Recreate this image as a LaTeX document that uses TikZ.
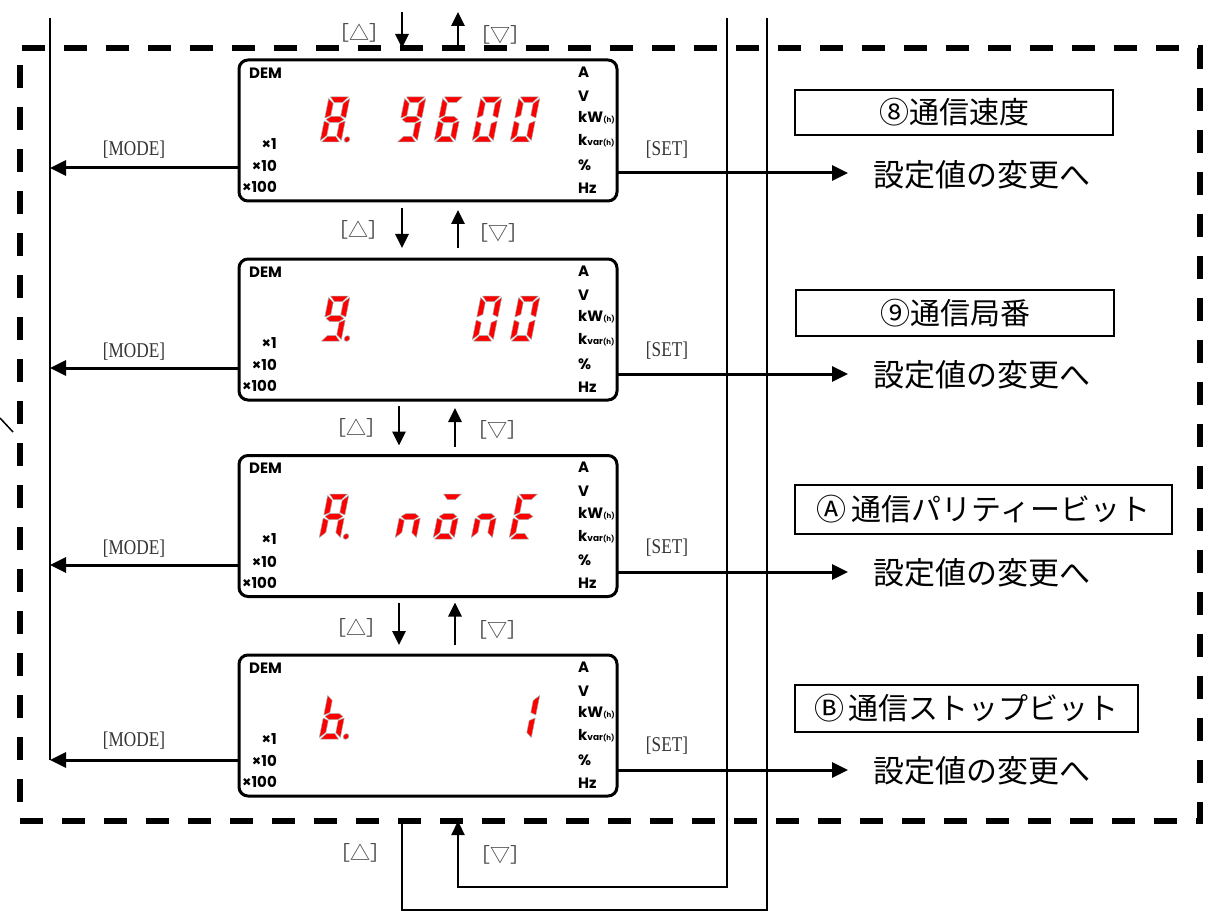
\documentclass[tikz,border=0pt]{standalone}
\usepackage{fontspec}
\setmainfont{Liberation Serif}
\newfontfamily\jp{Noto Sans CJK JP}
\newfontfamily\dispf{Poppins}
\newfontfamily\nar[FakeStretch=0.82]{Liberation Serif}
\usetikzlibrary{arrows.meta}

\tikzset{
  seg/.style={fill=red, draw=black!35, line width=0.5pt, line join=round},
  ln/.style={line width=2.8pt},
  thin ln/.style={line width=2.3pt},
  arr/.style={line width=3pt, -{Triangle[length=16pt,width=15pt]}},
  varr/.style={line width=2.8pt, -{Triangle[length=14pt,width=13pt]}},
  disp/.style={draw, line width=3pt, rounded corners=9pt, minimum width=378pt, minimum height=141pt, inner sep=0pt, outer sep=0pt},
  dl/.style={font=\dispf\bfseries\fontsize{15}{15}\selectfont, inner sep=0pt},
  key/.style={font=\nar\fontsize{21}{21}\selectfont, text=black!80, inner sep=0pt},
  tri/.style={font=\jp\fontsize{20}{20}\selectfont, text=black!75, inner sep=0pt},
  jpt/.style={font=\jp\fontsize{31}{31}\selectfont, inner sep=0pt},
  tbox/.style={draw, line width=2pt, inner sep=0pt, font=\jp\fontsize{30}{30}\selectfont},
}

\newcommand\sgA{\path[seg] (1.5,-45) -- (19.5,-45) -- (14.5,-39.5) -- (6.5,-39.5) -- cycle;}
\newcommand\sgB{\path[seg] (21,-43.5) -- (21,-24) -- (15.5,-26.5) -- (15.5,-38.5) -- cycle;}
\newcommand\sgC{\path[seg] (21,-21) -- (21,-1.5) -- (15.5,-6.5) -- (15.5,-18.5) -- cycle;}
\newcommand\sgD{\path[seg] (1.5,0) -- (19.5,0) -- (14.5,-5.5) -- (6.5,-5.5) -- cycle;}
\newcommand\sgE{\path[seg] (0,-21) -- (5.5,-18.5) -- (5.5,-6.5) -- (0,-1.5) -- cycle;}
\newcommand\sgF{\path[seg] (0,-43.5) -- (5.5,-38.5) -- (5.5,-26.5) -- (0,-24) -- cycle;}
\newcommand\sgG{\path[seg] (1.5,-22.5) -- (6,-25.5) -- (15,-25.5) -- (19.5,-22.5) -- (15,-19.5) -- (6,-19.5) -- cycle;}
\newcommand\sgP{\path[seg] (26.5,-2.5) circle (2.8);}
\newcommand\sevdig[3]{\begin{scope}[shift={(#1,#2)},xslant=0.2]#3\end{scope}}

\newcommand\panel[2]{%
  \node[disp] (#1) at (428,#2) {};
  \node[dl, anchor=west] (#1dem) at ([shift={(10,13)}]#1.north west) {DEM};
  \node[dl, anchor=east] (#1xa) at ([shift={(38,84)}]#1.north west) {×1};
  \node[dl, anchor=east] (#1xb) at ([shift={(38,106)}]#1.north west) {×10};
  \node[dl, anchor=east] (#1xc) at ([shift={(38,127)}]#1.north west) {×100};
  \node[dl, anchor=west] (#1ua) at ([shift={(-39,12)}]#1.north east) {A};
  \node[dl, anchor=west] (#1ub) at ([shift={(-39,36)}]#1.north east) {V};
  \node[dl, anchor=west] (#1uc) at ([shift={(-39,58)}]#1.north east) {kW{\fontsize{7}{7}\selectfont(h)}};
  \node[dl, anchor=west] (#1ud) at ([shift={(-39,81)}]#1.north east) {k{\fontsize{9}{9}\selectfont var}{\fontsize{7}{7}\selectfont(h)}};
  \node[dl, anchor=west] (#1ue) at ([shift={(-39,105)}]#1.north east) {\%};
  \node[dl, anchor=west] (#1uf) at ([shift={(-39,128)}]#1.north east) {Hz};
}

\begin{document}
\begin{tikzpicture}[x=1pt,y=-1pt]
\useasboundingbox (0,0) rectangle (1210,912);
\path[fill=white] (0,0) rectangle (1210,912);

% dashed frame
\node[draw, line width=5.5pt, dash pattern=on 23pt off 19pt, minimum width=1180pt, minimum height=773pt, inner sep=0pt, outer sep=0pt] (frame) at (610,434.5) {};

% panels
\panel{b1}{130.5}
\panel{b2}{329.5}
\panel{b3}{526}
\panel{b4}{725.5}

% digits panel 1: 8. 9600
\sevdig{320}{142}{\sgA\sgB\sgC\sgD\sgE\sgF\sgG\sgP}
\sevdig{396}{142}{\sgA\sgB\sgC\sgD\sgF\sgG}
\sevdig{434}{142}{\sgA\sgC\sgD\sgE\sgF\sgG}
\sevdig{472}{142}{\sgA\sgB\sgC\sgD\sgE\sgF}
\sevdig{510}{142}{\sgA\sgB\sgC\sgD\sgE\sgF}
% panel 2: 9. 00
\sevdig{320}{341}{\sgA\sgB\sgC\sgD\sgF\sgG\sgP}
\sevdig{472}{341}{\sgA\sgB\sgC\sgD\sgE\sgF}
\sevdig{510}{341}{\sgA\sgB\sgC\sgD\sgE\sgF}
% panel 3: A. none
\sevdig{319}{539}{\sgA\sgB\sgC\sgE\sgF\sgG\sgP}
\sevdig{395}{539}{\sgC\sgE\sgG}
\sevdig{433}{539}{\sgA\sgC\sgD\sgE\sgG}
\sevdig{471}{539}{\sgC\sgE\sgG}
\sevdig{509}{539}{\sgA\sgD\sgE\sgF\sgG}
% panel 4: b. 1
\sevdig{319}{739}{\sgC\sgD\sgE\sgF\sgG\sgP}
\sevdig{510}{739}{\sgB\sgC}

% coordinates
\coordinate (dn) at (402,0);
\coordinate (up) at (458,0);
\coordinate (dnb) at (399,0);
\coordinate (upb) at (455,0);
\coordinate (topd) at (402,12);
\coordinate (topu) at (458,12);
\coordinate (lt) at (50,18);
\coordinate (lb) at (50,760);
\coordinate (rA) at (727,18);
\coordinate (rB) at (767,18);
\coordinate (lowA) at (0,887);
\coordinate (lowB) at (0,910);

% left bus line
\draw[ln] (lt) -- (lb);
% right vertical lines and bottom loops
\draw[thin ln] (frame.south -| dn) -- (dn |- lowB) -| (rB);
\draw[thin ln, -{Triangle[length=14pt,width=13pt]}] (rA) -- (rA |- lowA) -| (frame.south -| up);
% top arrows
\draw[varr] (topd) -- (frame.north -| dn);
\draw[varr] (frame.north -| up) -- (topu);
\node[tri] (tt1) at (359,33) {［△］};
\node[tri] (tt2) at (500,35) {［▽］};
\node[tri] (bt1) at (360,853) {［△］};
\node[tri] (bt2) at (500,855) {［▽］};

% arrows between panels
\draw[varr, shorten <=7pt, shorten >=11pt] (b1.south -| dn) -- (b2.north -| dn);
\draw[varr, shorten <=11pt, shorten >=9pt] (b2.north -| up) -- (b1.south -| up);
\node[tri] (m12a) at (358,230) {［△］};
\node[tri] (m12b) at (498,233) {［▽］};
\draw[varr, shorten <=6pt, shorten >=10pt] (b2.south -| dnb) -- (b3.north -| dnb);
\draw[varr, shorten <=9pt, shorten >=8pt] (b3.north -| upb) -- (b2.south -| upb);
\node[tri] (m23a) at (356,428) {［△］};
\node[tri] (m23b) at (497,430) {［▽］};
\draw[varr, shorten <=6pt, shorten >=10pt] (b3.south -| dnb) -- (b4.north -| dnb);
\draw[varr, shorten <=10pt, shorten >=6pt] (b4.north -| upb) -- (b3.south -| upb);
\node[tri] (m34a) at (356,628) {［△］};
\node[tri] (m34b) at (497,630) {［▽］};

% MODE arrows
\coordinate (m1) at (50,168);
\coordinate (m2) at (50,368);
\coordinate (m3) at (50,565);
\coordinate (m4) at (50,760);
\draw[arr] (b1.west |- m1) -- (m1);
\draw[arr] (b2.west |- m2) -- (m2);
\draw[arr] (b3.west |- m3) -- (m3);
\draw[arr] (b4.west |- m4) -- (m4);
\node[key] (k1) at (134,150) {[MODE]};
\node[key] (k2) at (134,352) {[MODE]};
\node[key] (k3) at (134,549) {[MODE]};
\node[key] (k4) at (134,741) {[MODE]};

% SET arrows
\coordinate (s1) at (848,173);
\coordinate (s2) at (848,374);
\coordinate (s3) at (848,572);
\coordinate (s4) at (848,770);
\draw[arr] (b1.east |- s1) -- (s1);
\draw[arr] (b2.east |- s2) -- (s2);
\draw[arr] (b3.east |- s3) -- (s3);
\draw[arr] (b4.east |- s4) -- (s4);
\node[key] (e1) at (667,150) {[SET]};
\node[key] (e2) at (667,351) {[SET]};
\node[key] (e3) at (667,548) {[SET]};
\node[key] (e4) at (667,746) {[SET]};

% right texts
\node[jpt, anchor=west] (g1) at (873,175) {設定値の変更へ};
\node[jpt, anchor=west] (g2) at (873,375) {設定値の変更へ};
\node[jpt, anchor=west] (g3) at (873,573) {設定値の変更へ};
\node[jpt, anchor=west] (g4) at (873,771) {設定値の変更へ};

% title boxes
\node[tbox, minimum width=318pt, minimum height=45pt] (h1) at (954,112.5) {⑧通信速度};
\node[tbox, minimum width=318pt, minimum height=46pt] (h2) at (955,313) {⑨通信局番};
\node[tbox, minimum width=377pt, minimum height=49pt] (h3) at (983.5,509.5) {Ⓐ\hspace{5pt}通信パリティービット};
\node[tbox, minimum width=343pt, minimum height=47pt] (h4) at (966.5,708.5) {Ⓑ\hspace{5pt}通信ストップビット};

% small leader remnant
\draw[line width=1.5pt] (0,418) -- (13,432);
\end{tikzpicture}
\end{document}
